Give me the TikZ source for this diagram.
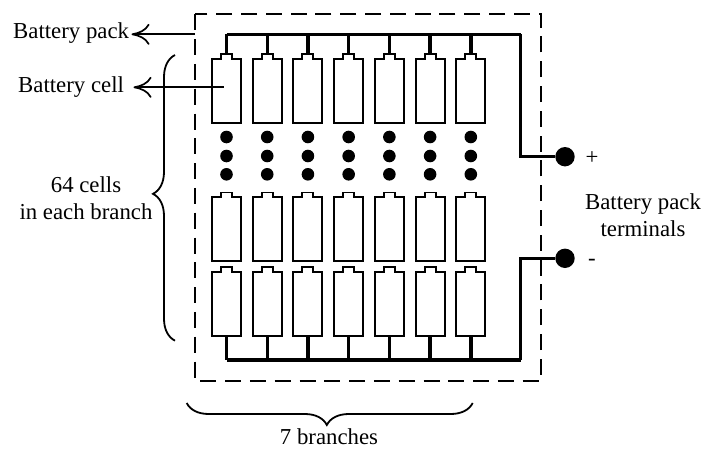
\documentclass[tikz,border=0pt]{standalone}
\usepackage{fontspec}
\setmainfont{Liberation Serif}
\usetikzlibrary{arrows.meta,positioning,decorations.pathreplacing}
\tikzset{
  packbox/.style={draw,line width=2pt,dash pattern=on 16pt off 8.8pt},
  cellline/.style={draw,line width=1.9pt,line join=miter},
  busline/.style={draw,line width=3.4pt,line join=miter},
  wireline/.style={draw,line width=3pt,line join=miter},
  callout/.style={line width=1.7pt,-{Computer Modern Rightarrow[length=18pt,width=21pt,line width=1.7pt]}},
  bracket/.style={line width=1.8pt,decorate,decoration={brace,amplitude=22pt,aspect=#1}},
  blob/.style={circle,fill=black,inner sep=0pt,minimum size=12.6pt},
  terminal/.style={circle,fill=black,inner sep=0pt,minimum size=19.4pt},
  lbl/.style={font=\fontsize{22.8}{27}\selectfont,align=center,inner sep=0pt},
  battcell/.pic={
    \draw[cellline] (-14.5,0) -- (-14.5,-64) -- (-5.5,-64) -- (-5.5,-68.5) -- (5.5,-68.5) -- (5.5,-64) -- (14.5,-64) -- (14.5,0) -- cycle;
    \coordinate (-top) at (0,-68.5);
    \coordinate (-bot) at (0,0);
  },
}
\begin{document}
\begin{tikzpicture}[x=1pt,y=-1pt]
\useasboundingbox (0,0) rectangle (702,450);
% pack outline
\draw[packbox] (195,14.3) rectangle (541.3,381);
\coordinate (packedge) at (195,34.3);
% cells, dots and stems per branch
\foreach \col in {0,...,6}{
  \pgfmathsetmacro{\cx}{226.5+40.72*\col}
  \path (\cx,122.7) pic (top\col) {battcell};
  \path (\cx,261) pic (mid\col) {battcell};
  \path (\cx,335.7) pic (low\col) {battcell};
  \node[blob] (dota\col) at (\cx,137) {};
  \node[blob] (dotb\col) at (\cx,156) {};
  \node[blob] (dotc\col) at (\cx,174.3) {};
}
\coordinate (bustop) at (520.5,34.3);
\coordinate (busbot) at (520.5,360);
\foreach \col in {0,...,6}{
  \draw[busline] (top\col-top) -- (top\col-top |- bustop);
  \draw[busline] (low\col-bot) -- (low\col-bot |- busbot);
}
% terminals
\node[terminal] (plus) at (565,156.7) {};
\node[terminal] (minus) at (565,258.3) {};
\draw[busline] (top0-top |- bustop) -- (bustop);
\draw[busline] (low0-bot |- busbot) -- (busbot);
\draw[wireline] (bustop) |- (plus);
\draw[wireline] (busbot) |- (minus);
% labels
\node[lbl,anchor=west] (packlbl) at (13,33) {Battery pack};
\node[lbl,anchor=west] (celllbl) at (18,87) {Battery cell};
\node[lbl] (cntlbl) at (86,198) {64 cells\\in each branch};
\node[lbl,anchor=base] (brlbl) at (329,444.8) {7 branches};
\node[lbl] (termlbl) at (643,215) {Battery pack\\terminals};
\node[lbl] (pluslbl) at (592,158) {+};
\node[lbl] (minuslbl) at (592,262) {-};
\coordinate (celltail) at (223.5,87.3);
\coordinate (cellhead) at (133.5,87.3);
\coordinate (packhead) at (131.5,34.3);
\draw[callout] (packedge) -- (packhead);
\draw[callout] (celltail) -- (cellhead);
% braces
\coordinate (bl) at (175,340.7);
\coordinate (tl) at (175,55);
\coordinate (lb) at (186.7,403);
\coordinate (rb) at (472.7,403);
\draw[bracket=0.514] (bl) -- (tl);
\draw[bracket=0.51] (rb) -- (lb);
\end{tikzpicture}
\end{document}
